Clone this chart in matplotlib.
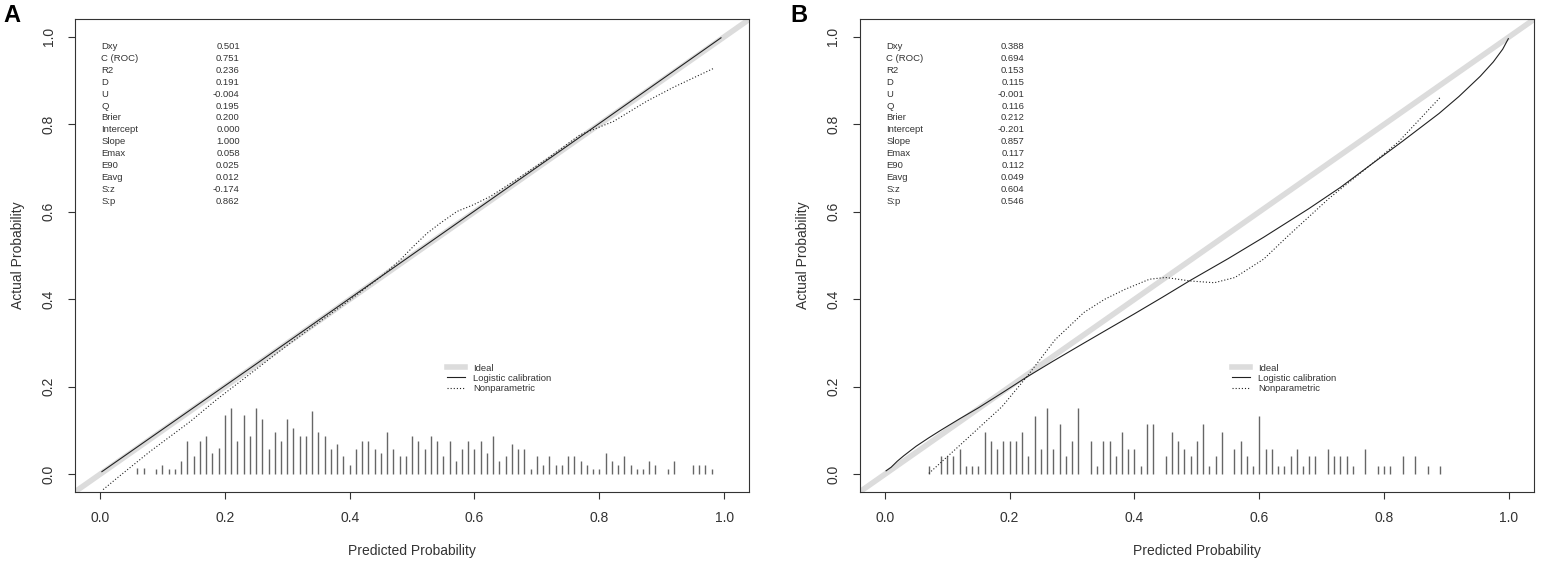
# calibration plots (rms val.prob style), two panels
import numpy as np
import matplotlib.pyplot as plt
from matplotlib.lines import Line2D

plt.rcParams['font.family'] = ['Liberation Sans', 'DejaVu Sans']

# ---- data ----
stat_names = ['Dxy', 'C (ROC)', 'R2', 'D', 'U', 'Q', 'Brier', 'Intercept',
              'Slope', 'Emax', 'E90', 'Eavg', 'S:z', 'S:p']
stats_a = ['0.501', '0.751', '0.236', '0.191', '-0.004', '0.195', '0.200',
           '0.000', '1.000', '0.058', '0.025', '0.012', '-0.174', '0.862']
stats_b = ['0.388', '0.694', '0.153', '0.115', '-0.001', '0.116', '0.212',
           '-0.201', '0.857', '0.117', '0.112', '0.049', '0.604', '0.546']

legend_labels = ['Ideal', 'Logistic calibration', 'Nonparametric']
tick_values = [0.0, 0.2, 0.4, 0.6, 0.8, 1.0]
tick_labels = ['0.0', '0.2', '0.4', '0.6', '0.8', '1.0']

# logistic calibration curves
logit_x_a = [0.003, 0.25, 0.5, 0.75, 0.995]
logit_y_a = [0.006, 0.252, 0.502, 0.752, 0.998]
logit_x_b = [0.002, 0.01, 0.02, 0.03, 0.05, 0.07, 0.09, 0.12, 0.15, 0.19,
             0.227, 0.27, 0.319, 0.36, 0.40, 0.445, 0.489, 0.55, 0.607, 0.679,
             0.73, 0.777, 0.83, 0.888, 0.92, 0.954, 0.975, 0.99, 0.999]
logit_y_b = [0.008, 0.016, 0.030, 0.042, 0.064, 0.083, 0.101, 0.127, 0.152,
             0.188, 0.222, 0.259, 0.300, 0.334, 0.367, 0.405, 0.443, 0.493,
             0.542, 0.607, 0.656, 0.706, 0.762, 0.825, 0.864, 0.910, 0.943,
             0.972, 0.996]

# nonparametric (loess) curves
np_x_a = [0.005, 0.027, 0.08, 0.144, 0.187, 0.25, 0.30, 0.35, 0.40, 0.45,
          0.481, 0.502, 0.524, 0.545, 0.572, 0.598, 0.625, 0.662, 0.716,
          0.769, 0.823, 0.876, 0.919, 0.983]
np_y_a = [-0.035, -0.009, 0.052, 0.120, 0.171, 0.240, 0.295, 0.347, 0.398,
          0.452, 0.490, 0.521, 0.551, 0.574, 0.601, 0.616, 0.635, 0.669,
          0.721, 0.776, 0.807, 0.853, 0.885, 0.928]
np_x_b = [0.0705, 0.123, 0.188, 0.228, 0.273, 0.319, 0.352, 0.385, 0.424,
          0.45, 0.489, 0.528, 0.561, 0.607, 0.646, 0.711, 0.777, 0.823, 0.89]
np_y_b = [0.002, 0.070, 0.155, 0.224, 0.308, 0.370, 0.400, 0.423, 0.446,
          0.450, 0.442, 0.438, 0.450, 0.492, 0.545, 0.630, 0.706, 0.760, 0.862]

# spike histograms of predicted probabilities
spike_x_a = [0.06, 0.07, 0.09, 0.10, 0.11, 0.12, 0.13, 0.14, 0.15, 0.16,
             0.17, 0.18, 0.19, 0.20, 0.21, 0.22, 0.23, 0.24, 0.25, 0.26,
             0.27, 0.28, 0.29, 0.30, 0.31, 0.32, 0.33, 0.34, 0.35, 0.36,
             0.37, 0.38, 0.39, 0.40, 0.41, 0.42, 0.43, 0.44, 0.45, 0.46,
             0.47, 0.48, 0.49, 0.50, 0.51, 0.52, 0.53, 0.54, 0.55, 0.56,
             0.57, 0.58, 0.59, 0.60, 0.61, 0.62, 0.63, 0.64, 0.65, 0.66,
             0.67, 0.68, 0.69, 0.70, 0.71, 0.72, 0.73, 0.74, 0.75, 0.76,
             0.77, 0.78, 0.79, 0.80, 0.81, 0.82, 0.83, 0.84, 0.85, 0.86,
             0.87, 0.88, 0.89, 0.91, 0.92, 0.95, 0.96, 0.97, 0.98]
spike_h_a = [0.014, 0.014, 0.012, 0.021, 0.013, 0.013, 0.031, 0.077, 0.041, 0.077,
             0.088, 0.049, 0.059, 0.135, 0.152, 0.077, 0.135, 0.088, 0.152, 0.126,
             0.058, 0.097, 0.077, 0.126, 0.106, 0.088, 0.088, 0.144, 0.097, 0.088,
             0.058, 0.070, 0.041, 0.021, 0.058, 0.077, 0.077, 0.058, 0.049, 0.097,
             0.058, 0.041, 0.041, 0.088, 0.077, 0.058, 0.088, 0.077, 0.041, 0.077,
             0.031, 0.058, 0.077, 0.058, 0.077, 0.049, 0.088, 0.031, 0.041, 0.070,
             0.058, 0.058, 0.012, 0.041, 0.021, 0.041, 0.021, 0.021, 0.041, 0.041,
             0.031, 0.021, 0.012, 0.012, 0.049, 0.031, 0.021, 0.041, 0.021, 0.012,
             0.012, 0.031, 0.021, 0.012, 0.031, 0.021, 0.021, 0.021, 0.012]
spike_x_b = [0.07, 0.09, 0.10, 0.11, 0.12, 0.13, 0.14, 0.15, 0.16, 0.17,
             0.18, 0.19, 0.20, 0.21, 0.22, 0.23, 0.24, 0.25, 0.26, 0.27,
             0.28, 0.29, 0.30, 0.31, 0.33, 0.34, 0.35, 0.36, 0.37, 0.38,
             0.39, 0.40, 0.41, 0.42, 0.43, 0.45, 0.46, 0.47, 0.48, 0.49,
             0.50, 0.51, 0.52, 0.53, 0.54, 0.56, 0.57, 0.58, 0.59, 0.60,
             0.61, 0.62, 0.63, 0.64, 0.65, 0.66, 0.67, 0.68, 0.69, 0.71,
             0.72, 0.73, 0.74, 0.75, 0.77, 0.79, 0.80, 0.81, 0.83, 0.85,
             0.87, 0.89]
spike_h_b = [0.020, 0.041, 0.041, 0.041, 0.058, 0.020, 0.020, 0.020, 0.097, 0.077,
             0.058, 0.077, 0.077, 0.077, 0.097, 0.041, 0.134, 0.058, 0.152, 0.058,
             0.116, 0.041, 0.077, 0.152, 0.077, 0.020, 0.077, 0.077, 0.041, 0.097,
             0.058, 0.058, 0.020, 0.116, 0.116, 0.041, 0.097, 0.077, 0.058, 0.041,
             0.077, 0.116, 0.020, 0.041, 0.097, 0.058, 0.077, 0.041, 0.020, 0.134,
             0.058, 0.058, 0.020, 0.020, 0.041, 0.058, 0.020, 0.041, 0.041, 0.058,
             0.041, 0.041, 0.041, 0.020, 0.058, 0.020, 0.020, 0.020, 0.041, 0.041,
             0.020, 0.020]

IDEAL_COLOR = '#dcdcdc'
LINE_COLOR = '#222222'
SMALL = 6.8
BIG = 10


def draw_panel(ax, letter, letter_x, stats, lx, ly, nx, ny, sx, sh):
    ax.set_xlim(-0.04, 1.04)
    ax.set_ylim(-0.04, 1.04)

    # ideal line, logistic fit, loess curve, spikes
    ax.axline((0, 0), (1, 1), color=IDEAL_COLOR, lw=4.0, zorder=1)
    ax.plot(lx, ly, color=LINE_COLOR, lw=0.8, zorder=3)
    ax.plot(nx, ny, color=LINE_COLOR, lw=0.8, ls=(0, (1, 1.8)), zorder=3)
    ax.vlines(sx, 0, sh, color='#666666', lw=1.0, zorder=2)

    # stats block in the top-left corner
    for i, (name, val) in enumerate(zip(stat_names, stats)):
        y = 0.978 - i * 0.0272
        ax.text(0.002, y, name, fontsize=SMALL, ha='left', va='center', color='#333333')
        ax.text(0.224, y, val, fontsize=SMALL, ha='right', va='center', color='#333333')

    handles = [Line2D([], [], color=IDEAL_COLOR, lw=4.0),
               Line2D([], [], color=LINE_COLOR, lw=0.8),
               Line2D([], [], color=LINE_COLOR, lw=0.8, ls=(0, (1, 1.8)))]
    ax.legend(handles, legend_labels, loc='upper left', bbox_to_anchor=(0.556, 0.253),
              bbox_transform=ax.transData, frameon=False, fontsize=SMALL,
              handlelength=1.9, handletextpad=0.85, labelspacing=0.12,
              borderpad=0, borderaxespad=0, labelcolor='#333333')

    ax.set_xticks(tick_values, tick_labels)
    ax.set_yticks(tick_values, tick_labels, rotation=90, va='center')
    ax.tick_params(direction='out', length=5, width=0.8, pad=9, labelsize=BIG,
                   colors='#333333')
    for sp in ax.spines.values():
        sp.set_color('#333333')
        sp.set_linewidth(0.8)

    ax.text(0.5, -0.1253, 'Predicted Probability', transform=ax.transAxes,
            ha='center', va='center', fontsize=BIG, color='#333333')
    ax.text(-0.0846, 0.5, 'Actual Probability', transform=ax.transAxes,
            ha='center', va='center', rotation=90, fontsize=BIG, color='#333333')

    ax.figure.text(letter_x, 0.973, letter, fontsize=17, fontweight='bold',
                   ha='center', va='center')


fig = plt.figure(figsize=(15.41, 5.65), dpi=100)
ax_a = fig.add_axes([0.0487, 0.1296, 0.4374, 0.836])
ax_b = fig.add_axes([0.558, 0.1296, 0.4374, 0.836])

draw_panel(ax_a, 'A', 0.0078, stats_a, logit_x_a, logit_y_a, np_x_a, np_y_a,
           spike_x_a, spike_h_a)
draw_panel(ax_b, 'B', 0.5185, stats_b, logit_x_b, logit_y_b, np_x_b, np_y_b,
           spike_x_b, spike_h_b)

fig.savefig('out.png', dpi=100)
